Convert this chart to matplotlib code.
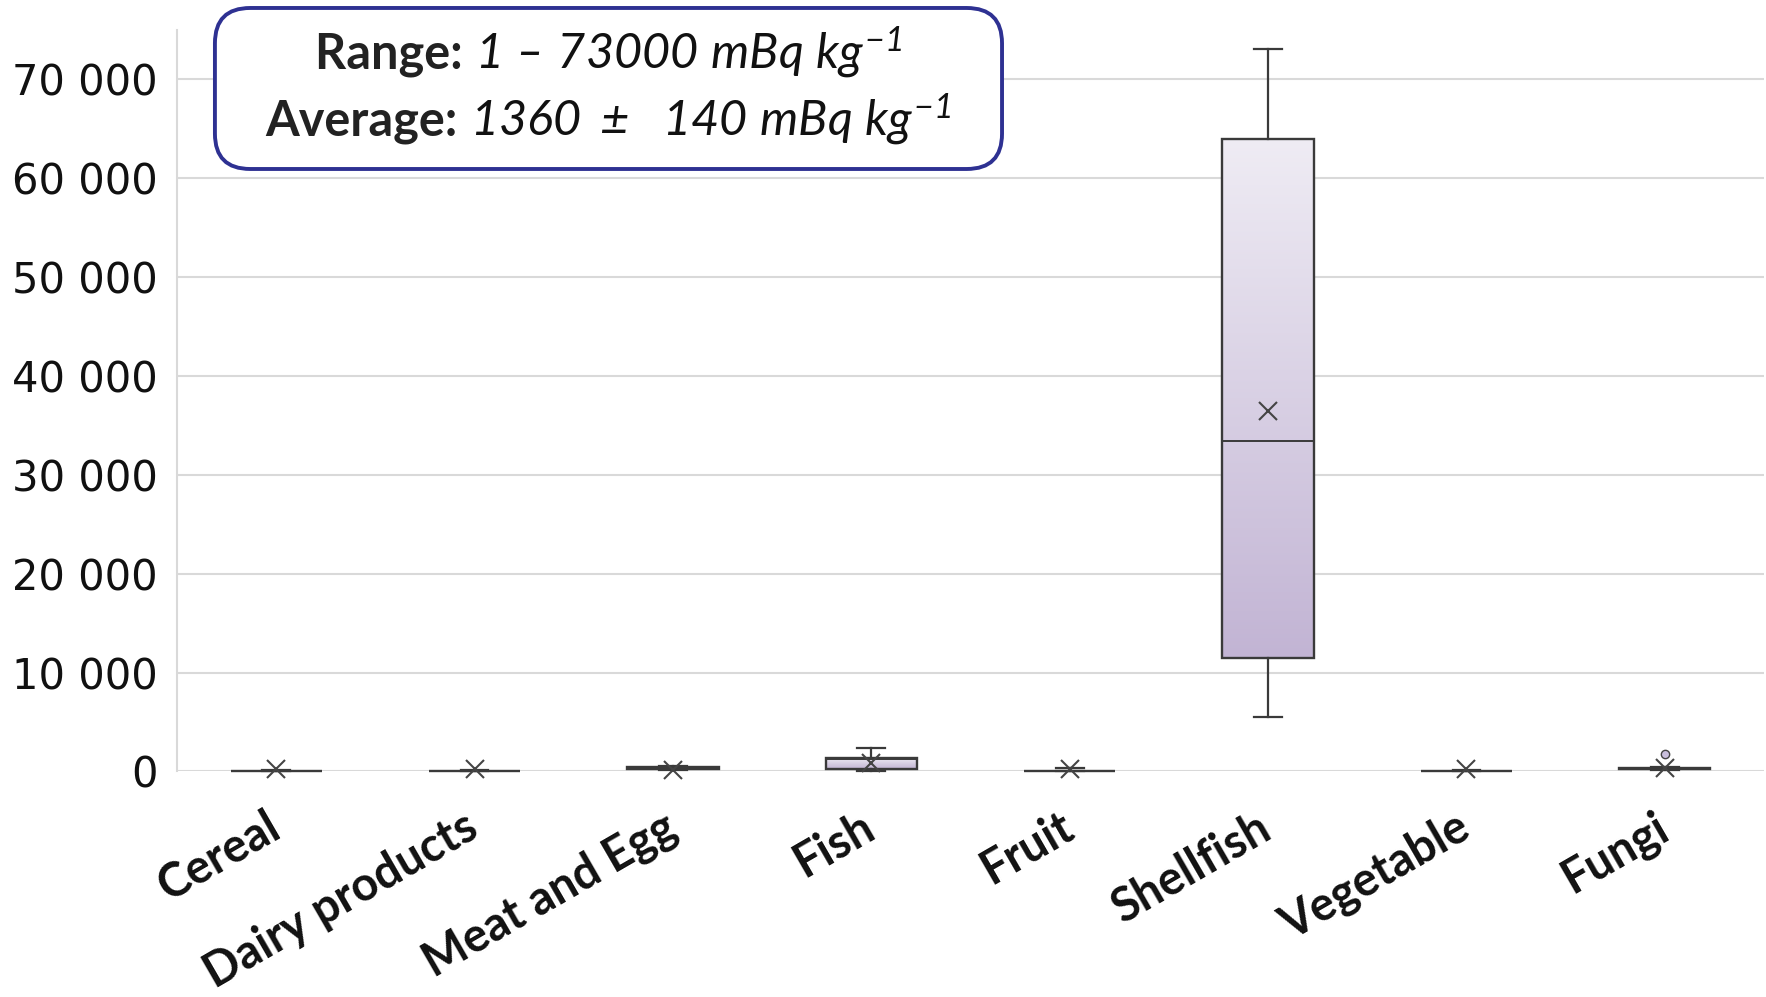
import numpy as np
import matplotlib
matplotlib.use("Agg")
import matplotlib.pyplot as plt
import matplotlib.transforms as mtransforms
from matplotlib.patches import FancyBboxPatch
from matplotlib.colors import LinearSegmentedColormap
from matplotlib.offsetbox import TextArea, HPacker, VPacker, AnnotationBbox

# box statistics (mBq/kg)
categories = ["Cereal", "Dairy products", "Meat and Egg", "Fish", "Fruit",
              "Shellfish", "Vegetable", "Fungi"]
whislo = [0, 0, 100, 0, 0, 5500, 0, 150]
q1 = [0, 0, 300, 250, 0, 11500, 0, 250]
med = [20, 20, 350, 1230, 20, 33400, 20, 300]
q3 = [60, 50, 450, 1400, 60, 64000, 50, 350]
whishi = [150, 100, 600, 2400, 350, 73000, 100, 500]
means = [300, 300, 200, 860, 300, 36400, 300, 350]
fliers = [[], [], [], [], [], [], [], [1770]]

yticks = [0, 10000, 20000, 30000, 40000, 50000, 60000, 70000]

# italic everywhere inside the math strings of the annotation
plt.rcParams["mathtext.fontset"] = "custom"
plt.rcParams["mathtext.rm"] = "Lato:italic"
plt.rcParams["mathtext.it"] = "Lato:italic"
plt.rcParams["mathtext.bf"] = "Lato:bold"

fig = plt.figure(figsize=(17.66, 9.97), dpi=100)
ax = fig.add_axes([0.1002, 0.2262, 0.8987, 0.7440])

stats = []
for i, name in enumerate(categories):
    stats.append(dict(label=name, whislo=whislo[i], q1=q1[i], med=med[i],
                      q3=q3[i], whishi=whishi[i], mean=means[i], fliers=fliers[i]))

positions = np.arange(1, len(categories) + 1)
width = 0.46
edge = "#3a3a3a"
bp = ax.bxp(stats, positions=positions, widths=width, capwidths=0.14,
            patch_artist=True, showmeans=True,
            boxprops=dict(facecolor="none", edgecolor=edge, linewidth=1.7),
            medianprops=dict(color=edge, linewidth=1.4),
            whiskerprops=dict(color=edge, linewidth=1.6),
            capprops=dict(color=edge, linewidth=1.6),
            meanprops=dict(marker="x", markeredgecolor="#444444", markersize=13,
                           markeredgewidth=1.5),
            flierprops=dict(marker="o", markerfacecolor="#C9BEDC",
                            markeredgecolor="#444444", markersize=6))

for group in bp.values():
    for art in group:
        art.set_clip_on(False)

# vertical gradient inside each box
cmap = LinearSegmentedColormap.from_list("lav", ["#C2B4D4", "#EFECF4"])
grad = np.linspace(0, 1, 256).reshape(-1, 1)
for pos, patch, lo, hi in zip(positions, bp["boxes"], q1, q3):
    if hi - lo <= 0:
        continue
    im = ax.imshow(grad, extent=[pos - width / 2, pos + width / 2, lo, hi],
                   aspect="auto", cmap=cmap, origin="lower", zorder=1.5,
                   interpolation="bilinear")
    im.set_clip_path(patch)

ax.set_xlim(0.5, 8.5)
ax.set_ylim(0, 75000)
ax.set_yticks(yticks)
ax.set_yticklabels([f"{v:,}".replace(",", " ") for v in yticks],
                   fontsize=30, family="DejaVu Sans", color="#111111")
ax.set_xticks(positions)
ax.set_xticklabels(categories, rotation=30, ha="right", rotation_mode="anchor",
                   fontsize=33.5, fontweight="bold", family="Lato", color="#111111")
ax.tick_params(axis="both", length=0)
ax.tick_params(axis="y", pad=14)
ax.tick_params(axis="x", pad=24)
shift = mtransforms.ScaledTranslation(-8 / 72, 0, fig.dpi_scale_trans)
for lab in ax.get_xticklabels():
    lab.set_transform(lab.get_transform() + shift)

ax.grid(axis="y", color="#D9D9D9", linewidth=1.5)
ax.set_axisbelow(True)
for s in ["top", "right", "bottom"]:
    ax.spines[s].set_visible(False)
ax.spines["left"].set_color("#D9D9D9")
ax.spines["left"].set_linewidth(1.5)

# annotation box
frame = FancyBboxPatch((0.1217, 0.8305), 0.4457, 0.1615,
                       boxstyle="round,pad=0,rounding_size=0.02",
                       transform=fig.transFigure, facecolor="white",
                       edgecolor="#2E3192", linewidth=2.8, zorder=5,
                       mutation_aspect=1.77)
fig.patches.append(frame)

bold = dict(fontsize=35, fontweight="bold", family="Lato", color="#222222")
ital = dict(fontsize=35, family="Lato", color="#111111")
line1 = HPacker(children=[TextArea("Range: ", textprops=bold),
                          TextArea(r"$1\ –\ 73000\ mBq\ kg^{-1}$", textprops=ital)],
                align="baseline", pad=0, sep=0)
line2 = HPacker(children=[TextArea("Average: ", textprops=bold),
                          TextArea(r"$1360\ \pm\ \ 140\ mBq\ kg^{-1}$", textprops=ital)],
                align="baseline", pad=0, sep=0)
block = VPacker(children=[line1, line2], align="center", pad=0, sep=8)
ab = AnnotationBbox(block, (0.3445, 0.914), xycoords="figure fraction",
                    frameon=False, box_alignment=(0.5, 0.5), zorder=6)
fig.add_artist(ab)

fig.savefig("out.png", dpi=100)
